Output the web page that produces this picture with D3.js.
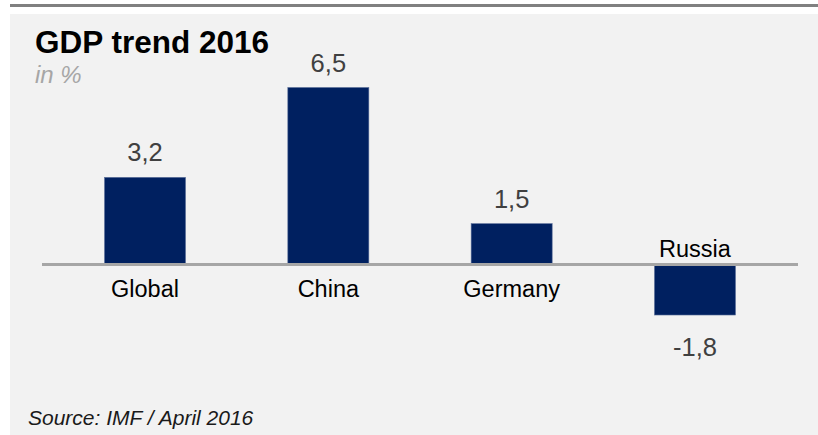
<!DOCTYPE html>
<html>
<head>
<meta charset="utf-8">
<script src="https://cdn.jsdelivr.net/npm/d3@7/dist/d3.min.js"></script>
<style>
  html, body { margin: 0; padding: 0; background: #fff; }
  svg { display: block; font-family: "Liberation Sans", Arial, sans-serif; }
</style>
</head>
<body>
<div id="chart"></div>
<script>
// ── Data ───────────────────────────────────────────────────────────────────
const countries = ['Global', 'China', 'Germany', 'Russia'];
const growth    = [3.2, 6.5, 1.5, -1.8];
const labels    = ['3,2', '6,5', '1,5', '-1,8'];

const W = 818, H = 435;
const BAR = '#002060';

const svg = d3.select('#chart').append('svg').attr('width', W).attr('height', H);

// panel + top rule
svg.append('rect').attr('x', 10).attr('y', 14).attr('width', W - 10).attr('height', H - 14).attr('fill', '#f2f2f2');
svg.append('rect').attr('x', 10).attr('y', 4).attr('width', W - 10).attr('height', 3).attr('fill', '#808080');

// titles
svg.append('text').attr('x', 35).attr('y', 53)
  .text('GDP trend 2016')
  .attr('font-size', '31.5px').attr('font-weight', 'bold').attr('fill', '#000');
svg.append('text').attr('x', 35).attr('y', 83)
  .text('in %')
  .attr('font-size', '24px').attr('font-style', 'italic').attr('fill', '#a6a6a6');

// ── Scales ──
const x = d3.scaleBand().domain(countries).range([42, 798]).paddingInner(0.558).paddingOuter(0.341);
const y = d3.scaleLinear().domain([0, 6.5]).range([264.5, 87.5]);

const rows = countries.map((c, i) => ({ c, v: growth[i], lab: labels[i] }));

// bars
svg.selectAll('.bar')
  .data(rows)
  .join('rect')
  .attr('class', 'bar')
  .attr('x', d => x(d.c))
  .attr('width', x.bandwidth())
  .attr('y', d => Math.min(y(d.v), y(0)))
  .attr('height', d => Math.abs(y(d.v) - y(0)) + (d.v < 0 ? 1.5 : 0))
  .attr('fill', BAR)
  .attr('stroke', '#5b6f9a')
  .attr('stroke-width', 0.6);

// zero line
svg.append('line')
  .attr('x1', 42).attr('x2', 798)
  .attr('y1', y(0)).attr('y2', y(0))
  .attr('stroke', '#a6a6a6').attr('stroke-width', 3);

// value labels
svg.selectAll('.val')
  .data(rows)
  .join('text')
  .attr('class', 'val')
  .attr('x', d => x(d.c) + x.bandwidth() / 2)
  .attr('y', d => d.v >= 0 ? y(d.v) - 16 : y(d.v) + 42.5)
  .attr('text-anchor', 'middle')
  .attr('font-size', '25.5px')
  .attr('fill', '#404040')
  .text(d => d.lab);

// category labels
svg.selectAll('.cat')
  .data(rows)
  .join('text')
  .attr('class', 'cat')
  .attr('x', d => x(d.c) + x.bandwidth() / 2)
  .attr('y', d => d.v >= 0 ? y(0) + 32.5 : y(0) - 8)
  .attr('text-anchor', 'middle')
  .attr('font-size', '23.5px')
  .attr('fill', '#000')
  .text(d => d.c);

// source
svg.append('text').attr('x', 28).attr('y', 425)
  .text('Source: IMF / April 2016')
  .attr('font-size', '21px').attr('font-style', 'italic').attr('fill', '#1a1a1a');
</script>
</body>
</html>
